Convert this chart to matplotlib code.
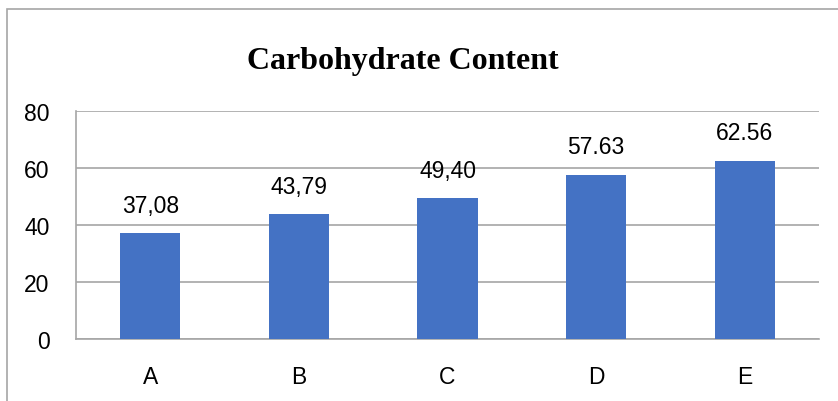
import matplotlib
matplotlib.use("Agg")
import matplotlib.pyplot as plt
from matplotlib.patches import Rectangle

# data
categories = ["A", "B", "C", "D", "E"]
values = [37.08, 43.79, 49.40, 57.63, 62.56]
value_labels = ["37,08", "43,79", "49,40", "57.63", "62.56"]
yticks = [0, 20, 40, 60, 80]

sans = ["Liberation Sans", "DejaVu Sans"]
grid_col = "#a6a6a6"

fig = plt.figure(figsize=(8.38, 4.02), dpi=100)
ax = fig.add_axes([76 / 838, 62 / 402, 743 / 838, 228 / 402])

x = range(len(categories))
bars = ax.bar(x, values, width=0.405, color="#4472C4", zorder=3)

for b, lab in zip(bars, value_labels):
    ax.annotate(lab, (b.get_x() + b.get_width() / 2, b.get_height()),
                xytext=(0, 12), textcoords="offset points",
                ha="center", va="bottom", fontsize=16.5, family=sans)

ax.set_xlim(-0.5, len(categories) - 0.5)
ax.set_ylim(0, 80)
ax.set_yticks(yticks)
ax.set_xticks(list(x))
ax.set_xticklabels(categories)
for lab in ax.get_xticklabels() + ax.get_yticklabels():
    lab.set_family(sans)
    lab.set_fontsize(16.5)
ax.tick_params(axis="y", length=0, pad=19)
ax.tick_params(axis="x", length=0, pad=19)

ax.yaxis.grid(True, color=grid_col, linewidth=1.2, zorder=0)
for side in ["right", "top"]:
    ax.spines[side].set_visible(False)
ax.spines["left"].set_color(grid_col)
ax.spines["bottom"].set_color(grid_col)
ax.spines["left"].set_linewidth(1.2)
ax.spines["bottom"].set_linewidth(1.2)

fig.text(403 / 838, 1 - 62 / 402, "Carbohydrate Content", ha="center", va="center",
         fontsize=23, fontweight="bold", family="Liberation Serif")

# outer chart border
fig.patches.append(Rectangle((7 / 838, -0.1), 1.2, 1 - 10 / 402 + 0.1,
                             transform=fig.transFigure, fill=False,
                             edgecolor=grid_col, linewidth=1.2))

fig.savefig("out.png", dpi=100)
